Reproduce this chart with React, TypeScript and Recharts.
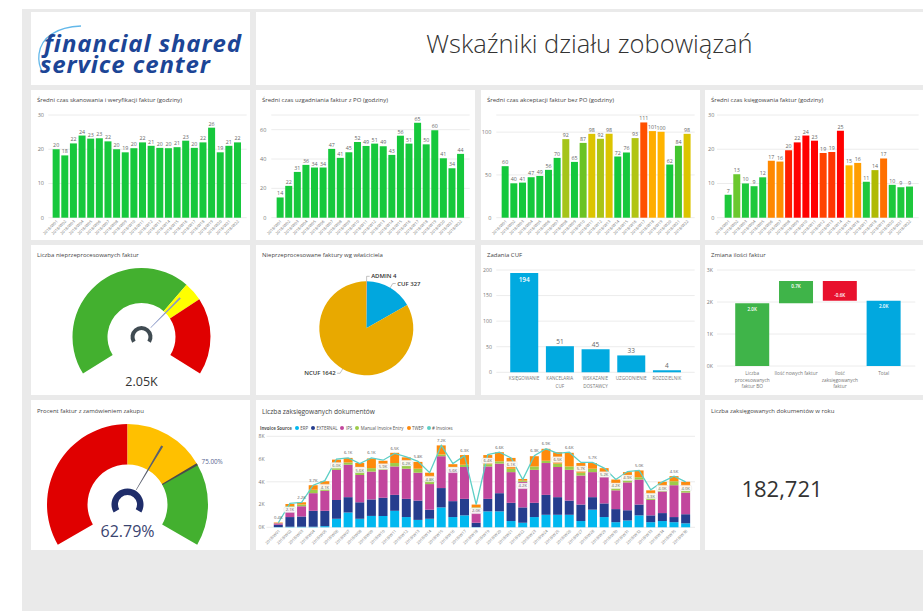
import React from "react";
import {
  BarChart,
  Bar,
  XAxis,
  YAxis,
  CartesianGrid,
  Cell,
  LabelList,
  PieChart,
  Pie,
  ComposedChart,
  Line,
} from "recharts";

const FONT = "'Open Sans', 'Noto Sans', sans-serif";
const TICK = "#777";
const GAP = "11%";

// etykiety tygodni
const weeks22 = [
  "2018/W01", "2018/W02", "2018/W03", "2018/W04", "2018/W05", "2018/W06", "2018/W07", "2018/W08",
  "2018/W09", "2018/W10", "2018/W11", "2018/W12", "2018/W13", "2018/W14", "2018/W15", "2018/W16",
  "2018/W17", "2018/W18", "2018/W19", "2018/W20", "2018/W21", "2018/W22",
];
const weeks36 = [
  "2018/W01", "2018/W02", "2018/W03", "2018/W04", "2018/W05", "2018/W06", "2018/W07", "2018/W08",
  "2018/W09", "2018/W10", "2018/W11", "2018/W12", "2018/W13", "2018/W14", "2018/W15", "2018/W16",
  "2018/W17", "2018/W18", "2018/W19", "2018/W20", "2018/W21", "2018/W22", "2018/W23", "2018/W24",
  "2018/W25", "2018/W26", "2018/W27", "2018/W28", "2018/W29", "2018/W30", "2018/W31", "2018/W32",
  "2018/W33", "2018/W34", "2018/W35", "2018/W36",
];

// czasy w godzinach
const scanHours = [20, 18.2, 21.7, 24, 23.1, 23.2, 22.3, 20, 19.1, 20.3, 22, 21, 20.4, 20.3, 20.6, 22.5, 20.4, 22, 26.3, 19.1, 21, 22];
const matchHours = [13.8, 21.7, 31.2, 36, 34.2, 34.2, 46.9, 40.8, 44.6, 51.6, 48.9, 50.5, 48.7, 42.8, 55.9, 50.5, 64.7, 50, 59.6, 40.5, 33.7, 43.5];
const approveHours = [60.2, 40.2, 41, 47.3, 48.8, 55.9, 69.9, 91.8, 65.2, 87.4, 98, 92.2, 98, 71.5, 76.2, 93, 111.3, 101.2, 100.4, 62.1, 84, 98];
const postHours = [6.7, 12.7, 10, 9.2, 11.8, 16.6, 16.4, 19.7, 22, 24, 22.5, 18.9, 19.2, 25.4, 15.3, 16, 10.5, 13.9, 17.3, 9.6, 8.9, 9.1];

// licznik nieprzeprocesowanych
const unprocessedValue = 2050;
const unprocessedMax = 3000;
const unprocessedBands = [2000, 200, 800];

// wg wlasciciela
const ownerNames = ["ADMIN", "CUF", "NCUF"];
const ownerCounts = [4, 327, 1642];

// zadania CUF
const taskNames = ["KSIĘGOWANIE", "KANCELARIA CUF", "WSKAZANIE DOSTAWCY", "UZGODNIENIE", "ROZDZIELNIK"];
const taskCounts = [194, 51, 45, 33, 4];

// zmiana ilosci faktur
const flowNames = ["Liczba procesowanych faktur BO", "Ilość nowych faktur", "Ilość zaksięgowanych faktur"];
const flowDeltas = [1960, 700, -620];

// procent z PO
const poPercent = 62.79;
const poTarget = 75;
const poBands = [50, 25, 25];

// dokumenty wg zrodla (tys.)
const srcERP = [0.02, 0.05, 0.05, 0.05, 0.1, 0.75, 1.3, 0.75, 1.0, 1.0, 1.45, 0.9, 0.65, 0.75, 1.75, 0.9, 1.05, 0.02, 1.4, 1.4, 0.55, 0.4, 0.9, 1.1, 1.1, 1.1, 0.55, 1.55, 0.9, 0.45, 0.6, 1.05, 0.45, 0.55, 0.45, 0.35];
const srcEXT = [0.2, 0.85, 0.9, 1.4, 1.35, 1.65, 1.35, 1.45, 1.45, 1.6, 1.4, 1.6, 1.7, 0.8, 1.7, 1.4, 1.45, 0.38, 1.1, 1.6, 1.6, 1.35, 1.25, 1.75, 1.55, 1.25, 1.45, 1.1, 1.2, 1.15, 0.9, 0.95, 0.6, 0.7, 0.45, 0.8];
const srcIPS = [0.13, 0.8, 0.9, 1.55, 1.75, 2.65, 2.85, 2.4, 2.45, 2.45, 2.5, 2.65, 2.45, 2.25, 2.8, 2.85, 2.8, 1.15, 2.85, 2.6, 2.7, 2.25, 2.9, 2.8, 2.65, 2.7, 2.55, 2.2, 2.35, 1.65, 2.45, 2.2, 1.35, 1.9, 2.8, 1.9];
const srcManual = [0.02, 0.15, 0.15, 0.3, 0.3, 0.45, 0.2, 0.45, 0.3, 0.3, 0.3, 0.65, 0.35, 0.5, 0.15, 0.15, 0.2, 0.2, 0.2, 0.2, 0.3, 0.1, 0.3, 0.2, 0.3, 0.3, 0.25, 0.3, 0.25, 0.35, 0.3, 0.2, 0.55, 0.3, 0.35, 0.4];
const srcTWEP = [0.05, 0.2, 0.2, 0.4, 0.55, 0.45, 0.4, 0.6, 0.85, 0.5, 0.9, 0.35, 0.6, 0.5, 0.8, 0.25, 0.85, 0.25, 0.8, 0.8, 0.95, 0.15, 0.9, 1.05, 1.0, 1.2, 0.85, 0.5, 0.5, 0.6, 0.6, 0.6, 0.3, 0.55, 0.45, 0.55];
const invoiceCount = [0.4, 2.1, 2.2, 3.7, 4.1, 6.0, 6.1, 5.6, 6.1, 5.9, 6.5, 6.2, 5.8, 4.8, 7.2, 5.6, 6.3, 2.0, 6.4, 6.6, 6.1, 4.2, 6.3, 6.9, 6.5, 6.6, 5.7, 5.7, 5.2, 4.2, 4.9, 5.0, 3.3, 4.0, 4.5, 4.0];
// gdzie etykieta linii siedzi w ramce (pod punktem)
const invoiceLabelBoxed = [0, 1, 0, 0, 1, 1, 0, 1, 0, 1, 0, 1, 0, 1, 0, 1, 0, 1, 1, 0, 1, 1, 0, 0, 1, 0, 1, 0, 1, 1, 1, 0, 1, 1, 0, 1];

const postedYear = 182721;

const SOURCES = [
  { key: "erp", name: "ERP", color: "#01b8f0", values: srcERP },
  { key: "ext", name: "EXTERNAL", color: "#253d8e", values: srcEXT },
  { key: "ips", name: "IPS", color: "#c2469d", values: srcIPS },
  { key: "man", name: "Manual Invoice Entry", color: "#9dcb4a", values: srcManual },
  { key: "twep", name: "TWEP", color: "#fe8a0c", values: srcTWEP },
];
const LINE_COLOR = "#5dcfc6";

const lerpColor = (stops: [number, string][], v: number) => {
  if (v <= stops[0][0]) return stops[0][1];
  for (let i = 1; i < stops.length; i++) {
    if (v <= stops[i][0]) {
      const [a, ca] = stops[i - 1];
      const [b, cb] = stops[i];
      const t = (v - a) / (b - a);
      const pa = [1, 3, 5].map((k) => parseInt(ca.slice(k, k + 2), 16));
      const pb = [1, 3, 5].map((k) => parseInt(cb.slice(k, k + 2), 16));
      return "rgb(" + pa.map((c, j) => Math.round(c + (pb[j] - c) * t)).join(",") + ")";
    }
  }
  return stops[stops.length - 1][1];
};

const approveStops: [number, string][] = [
  [80, "#14c83c"], [87, "#66c326"], [92, "#a8c418"], [98, "#dcc400"], [100, "#ffb800"], [111, "#ff5000"],
];
const postStops: [number, string][] = [
  [12, "#1ec83c"], [13, "#8cc828"], [14, "#b4b800"], [15.3, "#ffb400"], [16.5, "#ff8c00"], [17.3, "#ff7000"], [19, "#ff4000"], [20, "#ff1000"], [22, "#ff0000"],
];

const fmtK = (v: number) => `${(v / 1000).toFixed(1)}K`;

const wrapWords = (text: string, maxChars: number) => {
  const lines: string[] = [];
  let cur = "";
  text.split(" ").forEach((w) => {
    const next = cur ? cur + " " + w : w;
    if (next.length > maxChars && cur) {
      lines.push(cur);
      cur = w;
    } else cur = next;
  });
  if (cur) lines.push(cur);
  return lines;
};

const Tile = ({ x, y, w, h, children }: any) => (
  <div style={{ position: "absolute", left: x, top: y, width: w, height: h, background: "#fff", overflow: "hidden" }}>
    {children}
  </div>
);

const TileTitle = ({ top, size = 6, children }: any) => (
  <div style={{ position: "absolute", left: 6, top, fontSize: size, lineHeight: `${size + 1}px`, color: "#444", whiteSpace: "nowrap" }}>
    {children}
  </div>
);

const WeeklyBars = ({ title, values, colorOf, domain, ticks, plotLeft, plotRight, labelRight, padL, padR }: any) => {
  const data = weeks22.map((wk, i) => ({ week: wk, v: values[i] }));
  return (
    <>
      <TileTitle top={7}>{title}</TileTitle>
      <BarChart width={219} height={150} data={data} margin={{ top: 25, right: 219 - plotRight, left: 0, bottom: 2.3 }} barCategoryGap={GAP}>
        <CartesianGrid vertical={false} stroke="#ececec" />
        <XAxis dataKey="week" interval={0} angle={-45} textAnchor="end" tick={{ fontSize: 4, fill: TICK }} tickLine={false} axisLine={false} tickSize={0} tickMargin={2} height={20} padding={{ left: padL, right: padR }} />
        <YAxis width={plotLeft} domain={domain} ticks={ticks} tickLine={false} axisLine={false} tickSize={0} tickMargin={plotLeft - labelRight} tick={{ fontSize: 5.5, fill: TICK }} />
        <Bar dataKey="v" isAnimationActive={false}>
          {values.map((v: number, i: number) => (
            <Cell key={i} fill={colorOf(v)} />
          ))}
          <LabelList dataKey="v" position="top" offset={2} formatter={(v: any) => Math.round(Number(v))} style={{ fontSize: 5.3, fill: "#666" }} />
        </Bar>
      </BarChart>
    </>
  );
};

const Gauge = ({ width, height, cx, cy, inner, outer, start, end, max, bands, colors, value, needle, hub }: any) => {
  const bandData = bands.map((b: number) => ({ v: b }));
  const half = max * 0.004;
  const needleData = [{ v: value - half }, { v: half * 2 }, { v: max - value - half }];
  return (
    <PieChart width={width} height={height} margin={{ top: 0, right: 0, bottom: 0, left: 0 }}>
      <Pie data={bandData} dataKey="v" cx={cx} cy={cy} innerRadius={inner} outerRadius={outer} startAngle={start} endAngle={end} stroke="none" isAnimationActive={false}>
        {bandData.map((_: any, i: number) => (
          <Cell key={i} fill={colors[i]} />
        ))}
      </Pie>
      <Pie data={needleData} dataKey="v" cx={cx} cy={cy} innerRadius={needle.inner} outerRadius={needle.outer} startAngle={start} endAngle={end} stroke="none" isAnimationActive={false}>
        <Cell fill="transparent" />
        <Cell fill={needle.color} />
        <Cell fill="transparent" />
      </Pie>
      <Pie data={[{ v: 1 }]} dataKey="v" cx={cx} cy={cy} innerRadius={hub.inner} outerRadius={hub.outer} startAngle={start} endAngle={end} stroke="none" fill={hub.color} isAnimationActive={false} />
    </PieChart>
  );
};

const UnprocessedGauge = () => (
  <>
    <TileTitle top={7}>Liczba nieprzeprocesowanych faktur</TileTitle>
    <div style={{ position: "absolute", left: 0, top: 0 }}>
      <Gauge width={219} height={150} cx={110.5} cy={92} inner={34} outer={69} start={212} end={-32} max={unprocessedMax}
        bands={unprocessedBands} colors={["#43b02f", "#ffff00", "#e00000"]} value={unprocessedValue}
        needle={{ inner: 13, outer: 55, color: "#8796c6" }} hub={{ inner: 7, outer: 11, color: "#404b52" }} />
    </div>
    <div style={{ position: "absolute", left: 0, width: 221, top: 128, textAlign: "center", fontSize: 12.5, color: "#333" }}>
      {(unprocessedValue / 1000).toFixed(2)}K
    </div>
  </>
);

const OwnerPie = () => {
  const data = ownerNames.map((n, i) => ({ name: n, v: ownerCounts[i] }));
  const colors = ["#fd625e", "#01a7de", "#e8a900"];
  const RAD = Math.PI / 180;
  const renderLabel = (p: any) => {
    const { cx, cy, midAngle, outerRadius, index } = p;
    const c = Math.cos(-midAngle * RAD);
    const s = Math.sin(-midAngle * RAD);
    const x1 = cx + outerRadius * c;
    const y1 = cy + outerRadius * s;
    const x2 = cx + (outerRadius + 5) * c;
    const y2 = cy + (outerRadius + 5) * s;
    const right = c >= 0;
    const x3 = x2 + (right ? 3 : -3);
    return (
      <g>
        <polyline points={`${x1},${y1} ${x2},${y2} ${x3},${y2}`} fill="none" stroke="#999" strokeWidth={0.6} />
        <text x={x3 + (right ? 1.5 : -1.5)} y={y2} dominantBaseline="central" textAnchor={right ? "start" : "end"} fontSize={6} fontWeight={600} fill="#333">
          {`${data[index].name} ${data[index].v}`}
        </text>
      </g>
    );
  };
  return (
    <>
      <TileTitle top={7}>Nieprzeprocesowane faktury wg właściciela</TileTitle>
      <div style={{ position: "absolute", left: 0, top: 0 }}>
        <PieChart width={219} height={150} margin={{ top: 0, right: 0, bottom: 0, left: 0 }}>
          <Pie data={data} dataKey="v" cx={110.3} cy={83.3} outerRadius={47} startAngle={90} endAngle={-270} stroke="none" label={renderLabel} labelLine={false} isAnimationActive={false}>
            {data.map((_, i) => (
              <Cell key={i} fill={colors[i]} />
            ))}
          </Pie>
        </PieChart>
      </div>
    </>
  );
};

const TasksChart = () => {
  const data = taskNames.map((n, i) => ({ name: n, v: taskCounts[i] }));
  const taskLabel = (p: any) => {
    const { x, y, width, height, value } = p;
    const inside = height > 50;
    return (
      <text x={x + width / 2} y={inside ? y + 6 : y - 5} textAnchor="middle" dominantBaseline="central" fontSize={6.5} fontWeight={inside ? 600 : 400} fill={inside ? "#fff" : "#666"}>
        {value}
      </text>
    );
  };
  return (
    <>
      <TileTitle top={7}>Zadania CUF</TileTitle>
      <BarChart width={219} height={150} data={data} margin={{ top: 25, right: 219 - 213.7, left: 0, bottom: 2.7 }} barCategoryGap={GAP}>
        <CartesianGrid vertical={false} stroke="#ececec" />
        <XAxis dataKey="name" interval={0} tickLine={false} axisLine={false} tickSize={0} tickMargin={3.5} height={20} padding={{ left: 10, right: 10 }}
          tick={(p: any) => {
            const lines = wrapWords(String(p.payload.value), 11);
            return (
              <text x={p.x} y={p.y} textAnchor="middle" fontSize={4.6} fill={TICK}>
                {lines.map((l, i) => (
                  <tspan key={i} x={p.x} dy={i === 0 ? 4.6 : 7.3}>{l}</tspan>
                ))}
              </text>
            );
          }} />
        <YAxis width={15.3} domain={[0, 200]} ticks={[0, 50, 100, 150, 200]} tickLine={false} axisLine={false} tickSize={0} tickMargin={4.3} tick={{ fontSize: 5.2, fill: TICK }} />
        <Bar dataKey="v" fill="#01aae0" isAnimationActive={false}>
          <LabelList dataKey="v" content={taskLabel} />
        </Bar>
      </BarChart>
    </>
  );
};

const WaterfallChart = () => {
  let run = 0;
  const data = flowNames.map((n, i) => {
    const d = flowDeltas[i];
    const base = d >= 0 ? run : run + d;
    run += d;
    return { name: n, base, amt: Math.abs(d), delta: d, kind: d >= 0 ? "up" : "down" };
  });
  data.push({ name: "Total", base: 0, amt: run, delta: run, kind: "total" });
  const colorOf: any = { up: "#3fb449", down: "#e8112d", total: "#01a8df" };
  const wfLabel = (p: any) => {
    const { x, y, width, height, index } = p;
    const d = data[index];
    const ly = d.kind === "down" ? y + height - 5.5 : y + 5.5;
    return (
      <text x={x + width / 2} y={ly} textAnchor="middle" dominantBaseline="central" fontSize={4.6} fontWeight={600} fill="#fff">
        {fmtK(d.delta)}
      </text>
    );
  };
  return (
    <>
      <TileTitle top={7}>Zmiana ilości faktur</TileTitle>
      <BarChart width={218} height={150} data={data} margin={{ top: 25, right: 218 - 210.3, left: 0, bottom: 4 }} barCategoryGap={GAP}>
        <CartesianGrid vertical={false} stroke="#ececec" />
        <XAxis dataKey="name" interval={0} tickLine={false} axisLine={false} tickSize={0} tickMargin={4} height={25} padding={{ left: 13.4, right: 9.7 }}
          tick={(p: any) => {
            const lines = wrapWords(String(p.payload.value), 19);
            return (
              <text x={p.x} y={p.y} textAnchor="middle" fontSize={4.8} fill={TICK}>
                {lines.map((l, i) => (
                  <tspan key={i} x={p.x} dy={i === 0 ? 4.8 : 6.7}>{l}</tspan>
                ))}
              </text>
            );
          }} />
        <YAxis width={12} domain={[0, 3000]} ticks={[0, 1000, 2000, 3000]} tickFormatter={(v: number) => `${v / 1000}K`} tickLine={false} axisLine={false} tickSize={0} tickMargin={4} tick={{ fontSize: 5.2, fill: TICK }} />
        <Bar dataKey="base" stackId="w" fill="transparent" isAnimationActive={false} />
        <Bar dataKey="amt" stackId="w" isAnimationActive={false}>
          {data.map((d, i) => (
            <Cell key={i} fill={colorOf[d.kind]} />
          ))}
          <LabelList dataKey="amt" content={wfLabel} />
        </Bar>
      </BarChart>
    </>
  );
};

const PoGauge = () => {
  const RAD = Math.PI / 180;
  const half = 0.35;
  const markData = [{ v: poTarget - half }, { v: half * 2 }, { v: 100 - poTarget - half }];
  const markLabel = (p: any) => {
    if (p.index !== 1) return null;
    const r = p.outerRadius + 5;
    const x = p.cx + r * Math.cos(-p.midAngle * RAD);
    const y = p.cy + r * Math.sin(-p.midAngle * RAD);
    return (
      <text x={x} y={y} dominantBaseline="central" textAnchor="start" fontSize={6.3} fill="#56648f">
        {poTarget.toFixed(2)}%
      </text>
    );
  };
  return (
    <>
      <TileTitle top={8}>Procent faktur z zamówieniem zakupu</TileTitle>
      <div style={{ position: "absolute", left: 0, top: 0 }}>
        <Gauge width={219} height={150} cx={96.5} cy={104.5} inner={40} outer={80.5} start={210} end={-30} max={100}
          bands={poBands} colors={["#e00000", "#ffc000", "#43b02f"]} value={poPercent}
          needle={{ inner: 17, outer: 68, color: "#5a5f6e" }} hub={{ inner: 9.5, outer: 16, color: "#1f2d6a" }} />
      </div>
      <div style={{ position: "absolute", left: 0, top: 0 }}>
        <PieChart width={219} height={150} margin={{ top: 0, right: 0, bottom: 0, left: 0 }}>
          <Pie data={markData} dataKey="v" cx={96.5} cy={104.5} innerRadius={40} outerRadius={80.5} startAngle={210} endAngle={-30} stroke="none" label={markLabel} labelLine={false} isAnimationActive={false}>
            <Cell fill="transparent" />
            <Cell fill="#4a4a4a" />
            <Cell fill="transparent" />
          </Pie>
        </PieChart>
      </div>
      <div style={{ position: "absolute", left: 0, width: 193, top: 120, textAlign: "center", fontSize: 16, color: "#3a4470" }}>
        {poPercent.toFixed(2)}%
      </div>
    </>
  );
};

const DocumentsChart = () => {
  const data = weeks36.map((wk, i) => {
    const row: any = { week: wk, inv: invoiceCount[i] };
    SOURCES.forEach((s) => (row[s.key] = s.values[i]));
    return row;
  });
  const invLabel = (p: any) => {
    const { x, y, value, index } = p;
    const txt = `${Number(value).toFixed(1)}K`;
    if (invoiceLabelBoxed[index]) {
      return (
        <g>
          <rect x={x - 6} y={y + 3.5} width={12} height={5.6} rx={1.5} fill="#fff" fillOpacity={0.9} stroke="#d8d8d8" strokeWidth={0.4} />
          <text x={x} y={y + 6.4} textAnchor="middle" dominantBaseline="central" fontSize={4.2} fill="#666">{txt}</text>
        </g>
      );
    }
    return (
      <text x={x} y={y - 5} textAnchor="middle" dominantBaseline="central" fontSize={4.2} fill="#555">{txt}</text>
    );
  };
  return (
    <>
      <TileTitle top={7.5} size={6.6}>Liczba zaksięgowanych dokumentów</TileTitle>
      <div style={{ position: "absolute", left: 4, top: 24.5, display: "flex", alignItems: "center", fontSize: 4.4, color: "#555", whiteSpace: "nowrap" }}>
        <span style={{ fontWeight: 700, marginRight: 3 }}>Invoice Source</span>
        {[...SOURCES.map((s) => ({ name: s.name, color: s.color })), { name: "# Invoices", color: LINE_COLOR }].map((s) => (
          <span key={s.name} style={{ display: "flex", alignItems: "center", marginRight: 3 }}>
            <span style={{ width: 4, height: 4, borderRadius: 2, background: s.color, marginRight: 1.5 }} />
            {s.name}
          </span>
        ))}
      </div>
      <ComposedChart width={444} height={150} data={data} margin={{ top: 36.3, right: 444 - 439, left: 0, bottom: 4.7 }} barCategoryGap={GAP}>
        <CartesianGrid vertical={false} stroke="#ececec" />
        <XAxis dataKey="week" interval={0} angle={-45} textAnchor="end" tick={{ fontSize: 4, fill: TICK }} tickLine={false} axisLine={false} tickSize={0} tickMargin={2} height={18} padding={{ left: 6, right: 3.5 }} />
        <YAxis width={10.5} domain={[0, 8]} ticks={[0, 2, 4, 6, 8]} tickFormatter={(v: number) => `${v}K`} tickLine={false} axisLine={false} tickSize={0} tickMargin={2} tick={{ fontSize: 5, fill: TICK }} />
        {SOURCES.map((s) => (
          <Bar key={s.key} dataKey={s.key} stackId="src" fill={s.color} isAnimationActive={false} />
        ))}
        <Line dataKey="inv" stroke={LINE_COLOR} strokeWidth={1.3} dot={false} isAnimationActive={false}>
          <LabelList dataKey="inv" content={invLabel} />
        </Line>
      </ComposedChart>
    </>
  );
};

const Logo = () => (
  <svg width={219} height={73} style={{ position: "absolute", left: 0, top: 0 }}>
    <path d="M 50 14 C 26 15, 10 25, 8 42 C 7 50, 9 56, 12 61" fill="none" stroke="#63b8ea" strokeWidth={1.3} />
    <text fontSize={24} fontStyle="italic" fontWeight={700} fill="#1c4596" letterSpacing={0.9}>
      <tspan x={13} y={40}>financial shared</tspan>
      <tspan x={9} y={61}>service center</tspan>
    </text>
  </svg>
);

export default function App() {
  return (
    <div style={{ position: "absolute", left: 0, top: 0, width: 923, height: 611, background: "#fff", overflow: "hidden", fontFamily: FONT }}>
      <div style={{ position: "absolute", left: 22, top: 9, width: 901, height: 602, background: "#eaeaea" }} />
      <Tile x={31} y={12} w={219} h={73}>
        <Logo />
      </Tile>
      <Tile x={256} y={12} w={667} h={73}>
        <div style={{ position: "absolute", left: 0, width: 667, top: 14, textAlign: "center", fontSize: 25.5, fontWeight: 300, color: "#333" }}>
          Wskaźniki działu zobowiązań
        </div>
      </Tile>

      <Tile x={31} y={90} w={219} h={150}>
        <WeeklyBars title="Średni czas skanowania i weryfikacji faktur (godziny)" values={scanHours} colorOf={() => "#16c83c"}
          domain={[0, 30]} ticks={[0, 10, 20, 30]} plotLeft={17.3} plotRight={215.7} labelRight={13} padL={3.4} padR={5} />
      </Tile>
      <Tile x={256} y={90} w={219} h={150}>
        <WeeklyBars title="Średni czas uzgadniania faktur z PO (godziny)" values={matchHours} colorOf={() => "#16c83c"}
          domain={[0, 70]} ticks={[0, 20, 40, 60]} plotLeft={15.3} plotRight={213.7} labelRight={10.3} padL={4.4} padR={5} />
      </Tile>
      <Tile x={481} y={90} w={219} h={150}>
        <WeeklyBars title="Średni czas akceptacji faktur bez PO (godziny)" values={approveHours} colorOf={(v: number) => lerpColor(approveStops, v)}
          domain={[0, 120]} ticks={[0, 50, 100]} plotLeft={15.3} plotRight={213.7} labelRight={10.3} padL={4.4} padR={3.4} />
      </Tile>
      <Tile x={705} y={90} w={218} h={150}>
        <WeeklyBars title="Średni czas księgowania faktur (godziny)" values={postHours} colorOf={(v: number) => lerpColor(postStops, v)}
          domain={[0, 30]} ticks={[0, 10, 20, 30]} plotLeft={12} plotRight={213.7} labelRight={9.3} padL={6.7} padR={5} />
      </Tile>

      <Tile x={31} y={245} w={219} h={150}>
        <UnprocessedGauge />
      </Tile>
      <Tile x={256} y={245} w={219} h={150}>
        <OwnerPie />
      </Tile>
      <Tile x={481} y={245} w={219} h={150}>
        <TasksChart />
      </Tile>
      <Tile x={705} y={245} w={218} h={150}>
        <WaterfallChart />
      </Tile>

      <Tile x={31} y={400} w={219} h={150}>
        <PoGauge />
      </Tile>
      <Tile x={256} y={400} w={444} h={150}>
        <DocumentsChart />
      </Tile>
      <Tile x={705} y={400} w={218} h={150}>
        <TileTitle top={7.5}>Liczba zaksięgowanych dokumentów w roku</TileTitle>
        <div style={{ position: "absolute", left: 0, width: 154, top: 73, textAlign: "center", fontSize: 22, color: "#333" }}>
          {postedYear.toLocaleString("en-US")}
        </div>
      </Tile>
    </div>
  );
}
